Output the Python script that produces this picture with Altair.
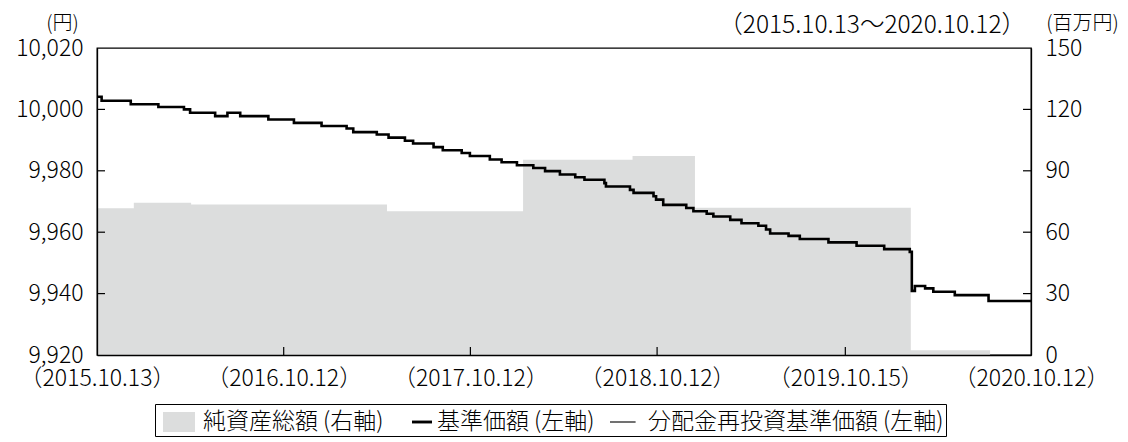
import altair as alt
import pandas as pd

# ---- data ----
nav_dates = ["2015-10-13", "2015-10-22", "2015-12-18", "2016-02-10", "2016-03-31", "2016-04-12",
             "2016-05-31", "2016-06-24", "2016-07-19", "2016-09-12", "2016-11-01", "2016-12-25",
             "2017-02-12", "2017-02-25", "2017-04-12", "2017-05-05", "2017-06-06", "2017-06-22",
             "2017-08-01", "2017-08-19", "2017-09-25", "2017-10-11", "2017-11-19", "2017-12-12",
             "2018-01-11", "2018-02-12", "2018-03-07", "2018-04-05", "2018-05-05", "2018-05-23",
             "2018-07-01", "2018-07-04", "2018-08-20", "2018-08-27", "2018-10-05", "2018-10-10",
             "2018-10-24", "2018-12-08", "2018-12-22", "2019-01-17", "2019-01-30", "2019-03-04",
             "2019-03-26", "2019-04-28", "2019-05-13", "2019-05-21", "2019-06-26", "2019-07-18",
             "2019-09-12", "2019-11-06", "2019-12-30", "2020-02-18", "2020-02-22", "2020-02-28",
             "2020-03-19", "2020-04-04", "2020-05-16", "2020-07-21", "2020-10-12"]
nav_values = [10004.1, 10002.8, 10001.7, 10000.8, 10000.0, 9998.9,
              9997.8, 9998.9, 9997.8, 9996.7, 9995.6, 9994.6,
              9993.8, 9992.6, 9991.8, 9990.8, 9989.8, 9988.9,
              9987.7, 9986.7, 9985.8, 9984.8, 9983.7, 9982.8,
              9981.8, 9980.9, 9979.9, 9978.8, 9977.9, 9977.1,
              9976.0, 9974.9, 9973.8, 9972.8, 9971.7, 9970.6,
              9968.9, 9967.9, 9966.8, 9966.0, 9965.1, 9964.0,
              9962.9, 9962.1, 9960.9, 9959.6, 9958.8, 9957.8,
              9956.7, 9955.6, 9954.5, 9953.6, 9940.9, 9942.5,
              9941.7, 9940.6, 9939.5, 9937.6, 9937.6]

na_dates = ["2015-10-13", "2015-12-24", "2016-04-14", "2017-05-02", "2018-01-23",
            "2018-08-25", "2018-12-25", "2020-02-20", "2020-07-24", "2020-10-12"]
na_values = [71.7, 74.4, 73.5, 70.2, 95.4, 97.2, 71.9, 2.3, 0.0, 0.0]

axis_dates = ["2015-10-13", "2016-10-12", "2017-10-12", "2018-10-12", "2019-10-15", "2020-10-12"]
left_ticks = [10020, 10000, 9980, 9960, 9940, 9920]
right_ticks = [0, 30, 60, 90, 120, 150]
legend_names = ["純資産総額 (右軸)", "基準価額 (左軸)", "分配金再投資基準価額 (左軸)"]
title_left = "(円)"
title_right = "(百万円)"
period_text = "（2015.10.13〜2020.10.12）"

# ---- styling ----
W, H = 934, 307
FONT = "Noto Sans CJK JP"
GRAY = "#dcdddd"
legend_shapes = ["M-0.625,-0.625H1.375V0.625H-0.625Z",
                 "M0.3125,-0.09H1.5625V0.09H0.3125Z",
                 "M-0.5,-0.035H1.1V0.035H-0.5Z"]


def dt(s):
    y, m, d = map(int, s.split("-"))
    return alt.DateTime(year=y, month=m, date=d)


nav = pd.DataFrame({"date": pd.to_datetime(nav_dates), "value": nav_values})
na = pd.DataFrame({"date": pd.to_datetime(na_dates), "value": na_values})
xt = pd.DataFrame({"date": pd.to_datetime(axis_dates[1:-1])})
lt = pd.DataFrame({"v": left_ticks[1:-1]})
rt = pd.DataFrame({"v": right_ticks[1:-1]})
leg = pd.DataFrame({"series": legend_names,
                    "date": pd.to_datetime([axis_dates[0]] * 3),
                    "value": [0, 0, 0]})

xscale = alt.Scale(domain=[dt(axis_dates[0]), dt(axis_dates[-1])], nice=False)
yl = alt.Scale(domain=[left_ticks[-1], left_ticks[0]], nice=False, zero=False)
yr = alt.Scale(domain=[right_ticks[0], right_ticks[-1]], nice=False, zero=True)

xaxis = alt.Axis(values=[dt(s) for s in axis_dates], format="（%Y.%m.%d）", formatType="time",
                 title=None, labelFontSize=23, labelPadding=12, ticks=False, domain=True,
                 domainColor="black", domainWidth=1.3, grid=False, labelOverlap=False,
                 labelFlush=False, labelFontWeight=300, zindex=1)
X = alt.X("date:T", scale=xscale, axis=xaxis)

area = alt.Chart(na).mark_area(interpolate="step-after", color=GRAY, opacity=1).encode(
    x=X,
    y=alt.Y("value:Q", scale=yr,
            axis=alt.Axis(orient="right", values=right_ticks, title=title_right, titleAngle=0,
                          titleX=51, titleY=-25, titleAlign="center", titleBaseline="middle",
                          ticks=False, domain=True, domainColor="black", domainWidth=1.3,
                          grid=False, labelPadding=14, labelFontSize=23, labelFontWeight=300,
                          titleFontWeight=300, zindex=1)),
)

rticks = alt.Chart(rt).mark_rule(color="black", strokeWidth=1.2).encode(
    y=alt.Y("v:Q", scale=yr, axis=None), x=alt.value(W - 8), x2=alt.value(W))

xticks = alt.Chart(xt).mark_rule(color="black", strokeWidth=1.2).encode(
    x=X, y=alt.value(H - 8), y2=alt.value(H))

lticks = alt.Chart(lt).mark_rule(color="black", strokeWidth=1.2).encode(
    y=alt.Y("v:Q", scale=yl, axis=None), x=alt.value(0), x2=alt.value(8))

thin = alt.Chart(nav).mark_line(interpolate="step-after", color="black", strokeWidth=1).encode(
    x=X, y=alt.Y("value:Q", scale=yl, axis=None))

thick = alt.Chart(nav).mark_line(interpolate="step-after", color="black", strokeWidth=2.6).encode(
    x=X,
    y=alt.Y("value:Q", scale=yl,
            axis=alt.Axis(orient="left", values=left_ticks, format=",d", title=title_left,
                          titleAngle=0, titleX=-35, titleY=-25, titleAlign="center",
                          titleBaseline="middle", ticks=False, domain=True, domainColor="black",
                          domainWidth=1.3, grid=False, labelPadding=14, labelFontSize=23,
                          labelFontWeight=300, titleFontWeight=300, zindex=1)),
)

legend_def = alt.Legend(orient="none", legendX=58, legendY=356, direction="horizontal",
                        title=None, labelFont=FONT, labelFontSize=23, labelColor="black",
                        labelFontWeight=300,
                        symbolSize=1024, symbolOpacity=1, symbolStrokeWidth=0, labelOffset=14,
                        columnPadding=7, padding=2, strokeColor="black", fillColor="white",
                        labelLimit=500)

legpts = alt.Chart(leg).transform_filter("false").mark_point(filled=True, size=1024, opacity=1).encode(
    x=X,
    y=alt.Y("value:Q", scale=yr, axis=None),
    color=alt.Color("series:N", scale=alt.Scale(domain=legend_names, range=[GRAY, "black", "black"]),
                    legend=legend_def),
    shape=alt.Shape("series:N", scale=alt.Scale(domain=legend_names, range=legend_shapes),
                    legend=legend_def),
)

chart = alt.layer(area, rticks, xticks, thin, thick, lticks, legpts).resolve_scale(
    y="independent"
).properties(
    width=W, height=H,
    title=alt.TitleParams(period_text, anchor="end", font=FONT, fontSize=24.5, fontWeight=300,
                          color="black", dx=-5, dy=29, frame="group"),
    autosize=alt.AutoSizeParams(type="none"),
    padding={"left": 89, "top": 40, "right": 89, "bottom": 86},
    background="white",
).configure_view(stroke="black", strokeWidth=1.3).configure_axis(
    labelFont=FONT, titleFont=FONT, labelColor="black", titleColor="black",
    titleFontSize=20,
)

chart.save("out.html", embed_options={"renderer": "svg", "actions": False})
